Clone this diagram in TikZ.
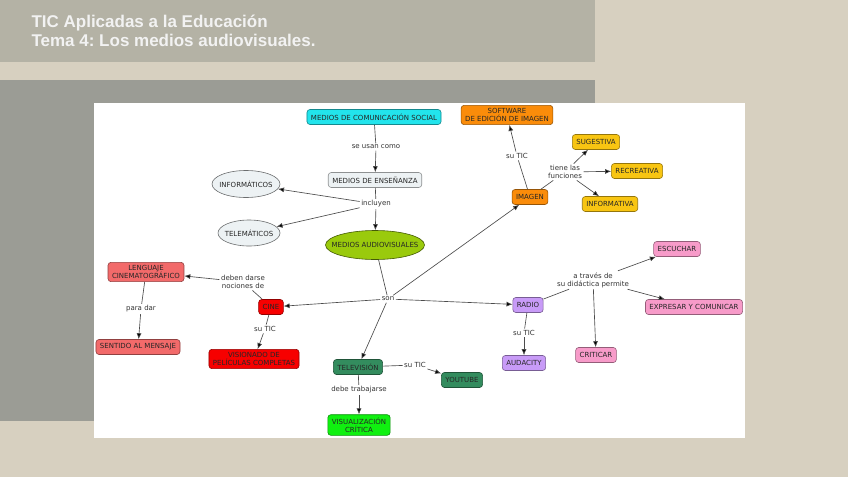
\documentclass[tikz,border=0pt]{standalone}
\usepackage{fontspec}
\newfontfamily\mapfont{DejaVu Sans}
\newfontfamily\titlefont{Liberation Sans}
\definecolor{mcbeige}{HTML}{D7D0C0}
\definecolor{mctop}{HTML}{B4B2A5}
\definecolor{mcmid}{HTML}{9B9C95}
\definecolor{mccyan}{HTML}{22E4EC}
\definecolor{mcgrey}{HTML}{EDF2F4}
\definecolor{mcolive}{HTML}{9ACA0C}
\definecolor{mcsalmon}{HTML}{F26A6A}
\definecolor{mcred}{HTML}{F70000}
\definecolor{mctv}{HTML}{338C5E}
\definecolor{mclime}{HTML}{10F010}
\definecolor{mcorange}{HTML}{FA8C0A}
\definecolor{mcgold}{HTML}{F8C512}
\definecolor{mcpink}{HTML}{F79BC9}
\definecolor{mclav}{HTML}{C89BF7}
\usepackage{tikz}
\usetikzlibrary{arrows.meta,shapes.geometric}
\frenchspacing

\begin{document}
\begin{tikzpicture}[x=1pt,y=-1pt,
  cpt/.style={draw=#1!60!black,fill=#1,rounded corners=3pt,line width=0.6pt,
    align=center,inner xsep=4pt,inner ysep=3pt,minimum height=15pt,
    font=\mapfont\fontsize{7}{8}\selectfont,text=black!85},
  oval/.style={ellipse,draw=#1!45!black,fill=#1,line width=0.6pt,
    inner xsep=-3pt,inner ysep=0pt,font=\mapfont\fontsize{7}{8}\selectfont,text=black!85},
  lab/.style={font=\mapfont\fontsize{7}{8}\selectfont,text=black!80,align=center,inner sep=1.5pt},
  ttl/.style={font=\titlefont\bfseries\fontsize{17}{19}\selectfont,text=white!95!black,anchor=base west},
  ln/.style={draw=black!70,line width=0.65pt},
  arr/.style={ln,-{Latex[length=6pt,width=5pt,fill=black]}}]
\useasboundingbox (0,0) rectangle (848,477);
\fill[mcbeige] (0,0) rectangle (848,477);
\fill[mctop] (0,0) rectangle (595,62);
\fill[mcmid] (0,80) rectangle (595,421);
\fill[white] (94,103) rectangle (745,438);
\node[ttl] (t1) at (28,27) {TIC Aplicadas a la Educación};
\node[ttl] (t2) at (28,46) {Tema 4: Los medios audiovisuales.};

\node[cpt=mccyan] (mcs) at (374,117) {MEDIOS DE COMUNICACIÓN SOCIAL};
\node[lab] (usan) at (376,147) {se usan como};
\node[cpt=mcgrey] (mde) at (375,180) {MEDIOS DE ENSEÑANZA};
\node[lab] (incl) at (376,204) {incluyen};
\node[oval=mcgrey,minimum width=68pt,minimum height=27pt] (infor) at (246,184) {INFORMÁTICOS};
\node[oval=mcgrey,minimum width=62pt,minimum height=26pt] (tele) at (249,233) {TELEMÁTICOS};
\node[oval=mcolive,minimum width=99pt,minimum height=29pt,inner xsep=-8.5pt] (mav) at (375,245) {MEDIOS AUDIOVISUALES};
\node[lab] (son) at (388,299) {son};

\node[cpt=mcsalmon] (lc) at (146,272) {LENGUAJE\\CINEMATOGRÁFICO};
\node[lab] (nociones) at (243,282) {deben darse\\nociones de};
\node[cpt=mcred] (cine) at (271,307) {CINE};
\node[lab] (paradar) at (141,309) {para dar};
\node[cpt=mcsalmon] (sentido) at (138,347) {SENTIDO AL MENSAJE};
\node[lab] (cinetic) at (265,329) {su TIC};
\node[cpt=mcred] (visionado) at (254,359) {VISIONADO DE\\PELÍCULAS COMPLETAS};

\node[cpt=mctv] (tv) at (358,367) {TELEVISIÓN};
\node[lab] (tvtic) at (415,365) {su TIC};
\node[cpt=mctv] (youtube) at (462,380) {YOUTUBE};
\node[lab] (trabajarse) at (359,390) {debe trabajarse};
\node[cpt=mclime] (vcritica) at (359,425) {VISUALIZACIÓN\\CRÍTICA};

\node[cpt=mcorange] (software) at (507,115) {SOFTWARE\\DE EDICIÓN DE IMAGEN};
\node[lab] (imgtic) at (517,156) {su TIC};
\node[cpt=mcorange] (imagen) at (530,197) {IMAGEN};
\node[lab] (funciones) at (565,172) {tiene las\\funciones};
\node[cpt=mcgold] (sugestiva) at (596,142) {SUGESTIVA};
\node[cpt=mcgold] (recreativa) at (637,171) {RECREATIVA};
\node[cpt=mcgold] (informativa) at (610,204) {INFORMATIVA};

\node[cpt=mcpink] (escuchar) at (677,249) {ESCUCHAR};
\node[lab] (permite) at (593,280) {a través de\\su didáctica permite};
\node[cpt=mclav] (radio) at (528,305) {RADIO};
\node[cpt=mcpink] (expresar) at (694,307) {EXPRESAR Y COMUNICAR};
\node[lab] (radiotic) at (524,333) {su TIC};
\node[cpt=mclav] (audacity) at (524,363) {AUDACITY};
\node[cpt=mcpink] (criticar) at (596,355) {CRITICAR};

\draw[ln] (mcs) -- (usan);
\draw[arr] (usan) -- (mde);
\draw[ln] (mde) -- (incl);
\foreach \t in {infor,tele,mav} \draw[arr] (incl) -- (\t);
\draw[ln] (mav) -- (son);
\foreach \t in {cine,tv,radio,imagen} \draw[arr] (son) -- (\t);
\draw[ln] (cine) -- (nociones);
\draw[arr] (nociones) -- (lc);
\draw[ln] (cine) -- (cinetic);
\draw[arr] (cinetic) -- (visionado);
\draw[ln] (lc) -- (paradar);
\draw[arr] (paradar) -- (sentido);
\draw[ln] (tv) -- (tvtic);
\draw[arr] (tvtic) -- (youtube);
\draw[ln] (tv) -- (trabajarse);
\draw[arr] (trabajarse) -- (vcritica);
\draw[ln] (imagen) -- (imgtic);
\draw[arr] (imgtic) -- (software);
\draw[ln] (imagen) -- (funciones);
\foreach \t in {sugestiva,recreativa,informativa} \draw[arr] (funciones) -- (\t);
\draw[ln] (radio) -- (permite);
\foreach \t in {escuchar,expresar,criticar} \draw[arr] (permite) -- (\t);
\draw[ln] (radio) -- (radiotic);
\draw[arr] (radiotic) -- (audacity);
\end{tikzpicture}
\end{document}
